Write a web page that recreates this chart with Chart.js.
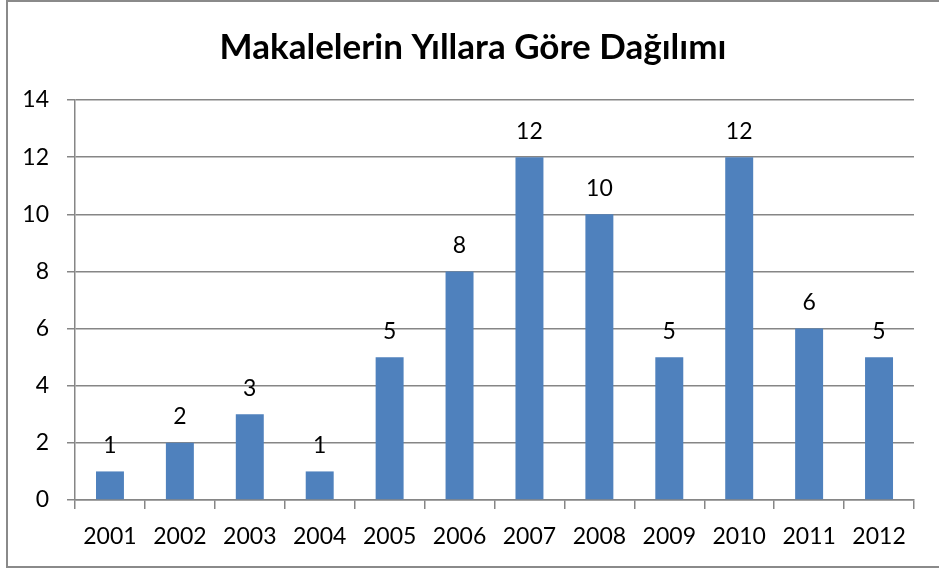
<!DOCTYPE html>
<html>
<head>
<meta charset="utf-8">
<script src="https://cdn.jsdelivr.net/npm/chart.js@4/dist/chart.umd.min.js"></script>
<style>
html, body { margin: 0; padding: 0; background: #fff; overflow: hidden; }
#wrap { position: relative; width: 939px; height: 570px; }
#frame { position: absolute; left: 6px; top: 0px; width: 960px; height: 568px;
         border-left: 2px solid #8a8a8a; border-top: 2px solid #8a8a8a; border-bottom: 2px solid #8a8a8a; box-sizing: border-box; }
canvas { position: absolute; left: 0; top: 0; }
</style>
</head>
<body>
<div id="wrap">
  <div id="frame"></div>
  <canvas id="chart" width="939" height="570"></canvas>
</div>
<script>
var titleText = 'Makalelerin Yıllara Göre Dağılımı';
var years = ['2001', '2002', '2003', '2004', '2005', '2006', '2007', '2008', '2009', '2010', '2011', '2012'];
var counts = [1, 2, 3, 1, 5, 8, 12, 10, 5, 12, 6, 5];
var yTicks = [0, 2, 4, 6, 8, 10, 12, 14];

var fontFamily = 'Lato, "Open Sans", sans-serif';

// title and value labels drawn on the canvas
var labelsPlugin = {
    id: 'barLabels',
    afterDatasetsDraw: function (chart) {
        var ctx = chart.ctx;
        ctx.save();
        ctx.fillStyle = '#000';
        ctx.textAlign = 'center';
        ctx.textBaseline = 'middle';
        ctx.font = 'bold 35px ' + fontFamily;
        ctx.fillText(titleText, 473, 48);
        ctx.font = '23px ' + fontFamily;
        chart.getDatasetMeta(0).data.forEach(function (bar, i) {
            ctx.fillText(String(counts[i]), bar.x, bar.y - 26);
        });
        ctx.restore();
    }
};

new Chart(document.getElementById('chart'), {
    type: 'bar',
    data: {
        labels: years,
        datasets: [{
            data: counts,
            backgroundColor: '#4f81bd',
            barPercentage: 0.4,
            categoryPercentage: 1.0
        }]
    },
    options: {
        responsive: false,
        animation: false,
        layout: { padding: { left: 6, right: 25, top: 100, bottom: 3 } },
        plugins: { legend: { display: false }, title: { display: false }, tooltip: { enabled: false } },
        scales: {
            x: {
                grid: { drawOnChartArea: false, color: '#868686', lineWidth: 1.5, tickLength: 9 },
                border: { display: true, color: '#868686', width: 1.5 },
                ticks: { color: '#000', font: { size: 23, family: fontFamily }, padding: 14, maxRotation: 0 },
                afterFit: function (scale) { scale.height = 67; }
            },
            y: {
                min: 0,
                max: 14,
                afterBuildTicks: function (scale) {
                    scale.ticks = yTicks.map(function (v) { return { value: v }; });
                },
                grid: { color: '#868686', lineWidth: 1.5, tickLength: 8 },
                border: { display: true, color: '#868686', width: 1.5 },
                ticks: { color: '#000', font: { size: 23, family: fontFamily }, padding: 18 },
                afterFit: function (scale) { scale.width = 69; }
            }
        }
    },
    plugins: [labelsPlugin]
});
</script>
</body>
</html>
